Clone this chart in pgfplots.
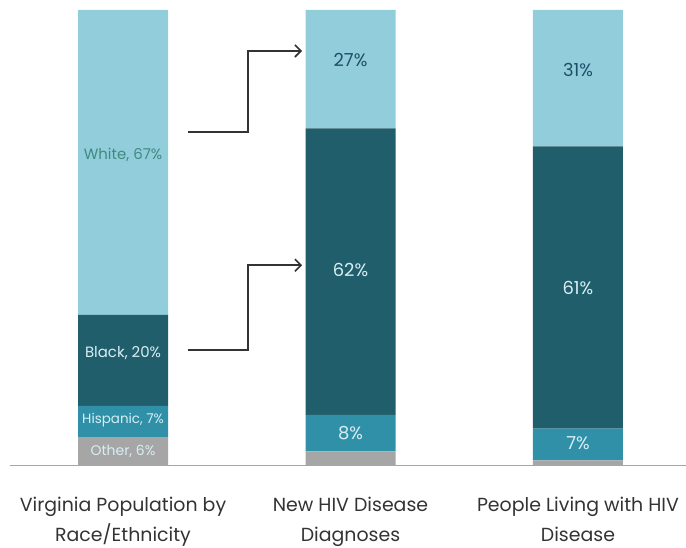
\documentclass[border=0pt]{standalone}
\usepackage{pgfplots}
\pgfplotsset{compat=1.18}
\usetikzlibrary{arrows.meta}
\usepackage{fontspec}
\setmainfont{Poppins}
\definecolor{cWhite}{HTML}{92CDDC}
\definecolor{cBlack}{HTML}{215E6C}
\definecolor{cHisp}{HTML}{3090A8}
\definecolor{cOther}{HTML}{A6A6A6}
\definecolor{tDark}{HTML}{1F4F68}
\definecolor{tGreen}{HTML}{3F8A80}
\definecolor{tLight}{HTML}{D8EEF4}
\begin{document}
\begin{tikzpicture}
\begin{axis}[
  anchor=south west, at={(0,0)},
  scale only axis, width=676bp, height=455bp,
  xmin=-0.497, xmax=2.475, ymin=0, ymax=100,
  ybar stacked, bar width=90bp,
  axis y line=none, axis x line*=bottom,
  x axis line style={draw=black!35, line width=1pt, -},
  xtick=\empty,
  clip=false,
]
\addplot[fill=cOther, draw=none] coordinates {(0,6) (1,3) (2,1)};
\addplot[fill=cHisp, draw=none] coordinates {(0,7) (1,8) (2,7)};
\addplot[fill=cBlack, draw=none] coordinates {(0,20) (1,63) (2,62)};
\addplot[fill=cWhite, draw=none] coordinates {(0,67) (1,26) (2,30)};
\coordinate (w0) at (axis cs:0,68.1);
\coordinate (b0) at (axis cs:0,24.5);
\coordinate (h0) at (axis cs:0,9.9);
\coordinate (o0) at (axis cs:0,2.9);
\coordinate (w1) at (axis cs:1,89);
\coordinate (b1) at (axis cs:1,42.9);
\coordinate (h1) at (axis cs:1,7);
\coordinate (w2) at (axis cs:2,86.8);
\coordinate (b2) at (axis cs:2,39);
\coordinate (h2) at (axis cs:2,4.8);
\coordinate (c0) at (axis cs:0,0);
\coordinate (c1) at (axis cs:1,0);
\coordinate (c2) at (axis cs:2,0);
\draw[black!80, line width=1.6pt, -{Straight Barb[length=6bp,width=12bp]}]
  (axis cs:0.286,73.2) -- (axis cs:0.550,73.2) -- (axis cs:0.550,91.0) -- (axis cs:0.787,91.0);
\draw[black!80, line width=1.6pt, -{Straight Barb[length=6bp,width=12bp]}]
  (axis cs:0.286,25.3) -- (axis cs:0.550,25.3) -- (axis cs:0.550,43.9) -- (axis cs:0.787,43.9);
\end{axis}
\tikzset{sm/.style={font=\fontsize{13.5}{14}\selectfont}, md/.style={font=\fontsize{15}{16}\selectfont}, bg/.style={font=\fontsize{18}{19}\selectfont}, cat/.style={font=\fontsize{19}{20}\selectfont, text=black!80, anchor=base}}
\node[md, text=tGreen] at (w0) {White, 67\%};
\node[md, text=tLight] at (b0) {Black, 20\%};
\node[sm, text=tLight] at (h0) {Hispanic, 7\%};
\node[sm, text=tLight, font=\fontsize{14}{15}\selectfont] at (o0) {Other, 6\%};
\node[bg, text=tDark] at (w1) {27\%};
\node[bg, text=tLight] at (b1) {62\%};
\node[bg, text=tLight] at (h1) {8\%};
\node[bg, text=tDark] at (w2) {31\%};
\node[bg, text=tLight] at (b2) {61\%};
\node[bg, text=tLight] at (h2) {7\%};
\node[cat] at ([yshift=-46bp]c0) {Virginia Population by};
\node[cat] at ([yshift=-76bp]c0) {Race/Ethnicity};
\node[cat] at ([yshift=-46bp]c1) {New HIV Disease};
\node[cat] at ([yshift=-76bp]c1) {Diagnoses};
\node[cat] at ([yshift=-46bp]c2) {People Living with HIV};
\node[cat] at ([yshift=-76bp]c2) {Disease};
\pgfresetboundingbox
\path[use as bounding box] (-10bp,-83bp) rectangle (676bp,465bp);
\end{tikzpicture}
\end{document}
